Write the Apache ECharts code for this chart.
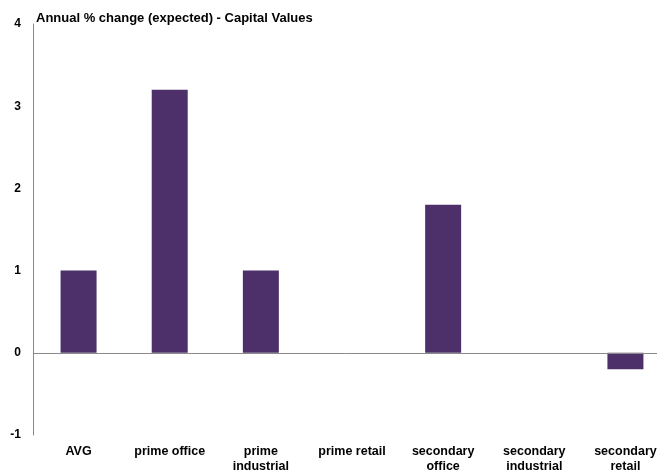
<!DOCTYPE html>
<html>
<head>
<meta charset="utf-8">
<style>
  html, body { margin: 0; padding: 0; background: #fff; }
  #chart { width: 657px; height: 471px; }
</style>
<script src="https://cdn.jsdelivr.net/npm/echarts@6/dist/echarts.min.js"></script>
</head>
<body>
<div id="chart"></div>
<script>
// Expected annual % change in capital values, by segment
const categories = ['AVG', 'prime office', 'prime\nindustrial', 'prime retail', 'secondary\noffice', 'secondary\nindustrial', 'secondary\nretail'];
const values = [1.0, 3.2, 1.0, 0, 1.8, 0, -0.2];
const yTicks = [-1, 0, 1, 2, 3, 4];

const chart = echarts.init(document.getElementById('chart'));
const font = 'Arial, "Liberation Sans", sans-serif';

chart.setOption({
  animation: false,
  backgroundColor: '#ffffff',
  title: {
    text: 'Annual % change (expected) - Capital Values',
    left: 31,
    top: 7,
    textStyle: { fontFamily: font, fontSize: 13, fontWeight: 'bold', color: '#000' }
  },
  grid: {
    left: 33,
    right: -14,
    top: 24,
    bottom: 36,
    outerBoundsMode: 'none'
  },
  xAxis: {
    type: 'category',
    data: categories,
    axisLine: { show: false, onZero: false },
    axisTick: { show: false },
    splitLine: { show: false },
    axisLabel: {
      margin: 9,
      interval: 0,
      fontFamily: font,
      fontSize: 12.5,
      fontWeight: 'bold',
      color: '#000',
      lineHeight: 15
    }
  },
  yAxis: {
    type: 'value',
    min: yTicks[0],
    max: yTicks[yTicks.length - 1],
    interval: 1,
    axisLine: { show: true, lineStyle: { color: '#8a8a8a', width: 1 } },
    axisTick: { show: false },
    splitLine: { show: false },
    axisLabel: {
      margin: 12,
      fontFamily: font,
      fontSize: 12,
      fontWeight: 'bold',
      color: '#000'
    }
  },
  series: [{
    type: 'bar',
    data: values,
    barWidth: '39.5%',
    itemStyle: { color: '#4d3069' },
    markLine: {
      silent: true,
      symbol: ['none', 'none'],
      label: { show: false },
      lineStyle: { color: '#8a8a8a', width: 1, type: 'solid' },
      data: [{ yAxis: 0 }]
    }
  }]
});
</script>
</body>
</html>
